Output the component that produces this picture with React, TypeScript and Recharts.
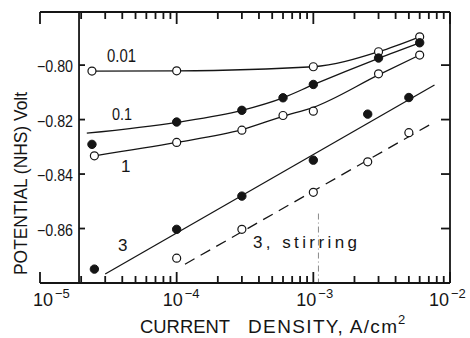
import React from "react";
import { ComposedChart, Line, Scatter, XAxis, YAxis, ReferenceLine } from "recharts";

const W = 470;
const H = 338;
const FONT = "'Liberation Sans', Arial, sans-serif";
const INK = "#151515";

// log axis ticks, A/cm2 (decades plus 2..9 minors)
const currentTicks = [
    1e-5, 2e-5, 3e-5, 4e-5, 5e-5, 6e-5, 7e-5, 8e-5, 9e-5,
    1e-4, 2e-4, 3e-4, 4e-4, 5e-4, 6e-4, 7e-4, 8e-4, 9e-4,
    1e-3, 2e-3, 3e-3, 4e-3, 5e-3, 6e-3, 7e-3, 8e-3, 9e-3,
    1e-2,
];
const decadeTicks = [1e-5, 1e-4, 1e-3, 1e-2];
const decadeExps = ["\u22125", "\u22124", "\u22123", "\u22122"];
const potentialTicks = [-0.86, -0.84, -0.82, -0.8];
const potentialLabels = ["\u22120.86", "\u22120.84", "\u22120.82", "\u22120.80"];

// measured points: current (A/cm2) / potential (V)
const i001 = [2.4e-5, 1e-4, 1e-3, 3e-3, 6e-3];
const e001 = [-0.8022, -0.8021, -0.8006, -0.7951, -0.7896];

const i01 = [2.4e-5, 1e-4, 3e-4, 6e-4, 1e-3, 3e-3, 6e-3];
const e01 = [-0.8291, -0.8209, -0.8166, -0.812, -0.8071, -0.7974, -0.7918];

const i1 = [2.5e-5, 1e-4, 3e-4, 6e-4, 1e-3, 3e-3, 6e-3];
const e1 = [-0.8333, -0.8284, -0.8239, -0.8185, -0.8169, -0.8032, -0.7963];

const i3 = [2.5e-5, 1e-4, 3e-4, 1e-3, 2.5e-3, 5e-3];
const e3 = [-0.8749, -0.8603, -0.8481, -0.8349, -0.818, -0.8119];

const i3s = [1e-4, 3e-4, 1e-3, 2.5e-3, 5e-3];
const e3s = [-0.8709, -0.8603, -0.8467, -0.8355, -0.8248];

// hand drawn curves
const fitI01 = [2.2e-5, 1e-4, 3e-4, 6e-4, 1e-3, 3e-3, 6e-3];
const fitE01 = [-0.825, -0.821, -0.8166, -0.812, -0.8072, -0.7975, -0.7918];

const fitI1 = [2.5e-5, 1e-4, 3e-4, 6e-4, 1e-3, 3e-3, 6e-3];
const fitE1 = [-0.8333, -0.8284, -0.8237, -0.8188, -0.8155, -0.8036, -0.7963];

const fitI3 = [3e-5, 7.7e-3];
const fitE3 = [-0.8767, -0.8073];

const fitI3s = [1.15e-4, 7.4e-3];
const fitE3s = [-0.8731, -0.8214];

const toPts = (xs: number[], ys: number[]) => xs.map((x, k) => ({ x, y: ys[k] }));

const Y_DOMAIN: [number, number] = [-0.88, -0.7805];
const X_DOMAIN: [number, number] = [1e-5, 1e-2];
const MARGIN = { top: 0, right: 20, bottom: 0, left: 0 };
const PLOT_LEFT = 40;
const TOP_H = 12;
const BOTTOM_H = 55;
const PLOT_W = W - PLOT_LEFT - MARGIN.right;
const DECADE_PX = PLOT_W / 3;
const Y_AXIS_AT = 1.93e-5; // where the drawn potential axis crosses
const AXIS_PX = PLOT_LEFT + Math.log10(Y_AXIS_AT / X_DOMAIN[0]) * DECADE_PX;
const labelShift = [13, 6, 3, -1];

const isDecade = (v: number) => decadeTicks.findIndex((d) => Math.abs(d - v) / d < 1e-6);

// tick marks placed through the chart scales, one mark per tick value
const bottomMarks = currentTicks.map((x) => ({ x, y: Y_DOMAIN[0], len: isDecade(x) >= 0 ? 11 : 7 }));
const topMarks = currentTicks.map((x) => ({ x, y: Y_DOMAIN[1], len: isDecade(x) >= 0 ? 12 : 7 }));
const leftMarks = potentialTicks.map((y) => ({ x: Y_AXIS_AT, y }));
const rightMarks = potentialTicks.map((y) => ({ x: X_DOMAIN[1], y }));

const upMark = (p: any) => <line x1={p.cx} x2={p.cx} y1={p.cy} y2={p.cy - p.payload.len} stroke={INK} strokeWidth={1.8} />;
const downMark = (p: any) => <line x1={p.cx} x2={p.cx} y1={p.cy} y2={p.cy + p.payload.len} stroke={INK} strokeWidth={1.8} />;
const rightwardMark = (p: any) => <line x1={p.cx} x2={p.cx + 6} y1={p.cy} y2={p.cy} stroke={INK} strokeWidth={1.8} />;
const leftwardMark = (p: any) => <line x1={p.cx} x2={p.cx - 9} y1={p.cy} y2={p.cy} stroke={INK} strokeWidth={1.8} />;

const BottomTick = (props: any) => {
    const { x, y, payload } = props;
    const k = isDecade(payload.value);
    if (k < 0) return <g />;
    return (
        <g fontFamily={FONT} fill={INK}>
            <text x={x + labelShift[k]} y={y + 23} textAnchor="end" fontSize={18}>
                10
            </text>
            <text x={x + labelShift[k] + 2} y={y + 15} fontSize={13}>
                {decadeExps[k]}
            </text>
        </g>
    );
};

const LeftTick = (props: any) => {
    const { y, index } = props;
    return (
        <text
            x={AXIS_PX - 6}
            y={y + 7}
            textAnchor="end"
            fontSize={16}
            fontFamily={FONT}
            fill={INK}
            textLength={36}
            lengthAdjust="spacingAndGlyphs"
        >
            {potentialLabels[index]}
        </text>
    );
};

const openDot = (p: any) => <circle cx={p.cx} cy={p.cy} r={4} fill="#fff" stroke={INK} strokeWidth={1.2} />;
const fullDot = (p: any) => <circle cx={p.cx} cy={p.cy} r={4.2} fill={INK} stroke={INK} strokeWidth={1} />;

export default function App() {
    return (
        <div style={{ position: "absolute", left: 0, top: 0, width: W, height: H, background: "#fff" }}>
            <ComposedChart width={W} height={H} margin={MARGIN}>
                <XAxis
                    xAxisId={0}
                    dataKey="x"
                    type="number"
                    scale="log"
                    domain={X_DOMAIN}
                    ticks={currentTicks}
                    interval={0}
                    height={BOTTOM_H}
                    tickSize={0}
                    tickMargin={0}
                    tickLine={false}
                    axisLine={{ stroke: INK, strokeWidth: 1.8 }}
                    tick={(p: any) => <BottomTick {...p} />}
                />
                <XAxis
                    xAxisId="top"
                    orientation="top"
                    dataKey="x"
                    type="number"
                    scale="log"
                    domain={X_DOMAIN}
                    ticks={currentTicks}
                    interval={0}
                    height={TOP_H}
                    tickLine={false}
                    tick={false}
                    axisLine={{ stroke: INK, strokeWidth: 1.8 }}
                />
                <YAxis
                    yAxisId={0}
                    dataKey="y"
                    type="number"
                    domain={Y_DOMAIN}
                    ticks={potentialTicks}
                    interval={0}
                    width={PLOT_LEFT}
                    tickSize={0}
                    tickMargin={0}
                    tickLine={false}
                    axisLine={false}
                    tick={(p: any) => <LeftTick {...p} />}
                />
                <YAxis
                    yAxisId="right"
                    orientation="right"
                    dataKey="y"
                    type="number"
                    domain={Y_DOMAIN}
                    ticks={potentialTicks}
                    width={10}
                    mirror
                    tick={false}
                    tickLine={false}
                    axisLine={{ stroke: INK, strokeWidth: 1.8 }}
                />
                <ReferenceLine x={Y_AXIS_AT} stroke={INK} strokeWidth={1.8} />
                <ReferenceLine
                    segment={[
                        { x: 1.09e-3, y: -0.8545 },
                        { x: 1.09e-3, y: -0.88 },
                    ]}
                    stroke="#8a8a8a"
                    strokeWidth={1}
                    strokeDasharray="6 3 1 3"
                />

                <Scatter data={bottomMarks} dataKey="y" shape={upMark} isAnimationActive={false} />
                <Scatter data={topMarks} dataKey="y" shape={downMark} isAnimationActive={false} />
                <Scatter data={leftMarks} dataKey="y" shape={rightwardMark} isAnimationActive={false} />
                <Scatter data={rightMarks} dataKey="y" shape={leftwardMark} isAnimationActive={false} />

                <Line data={toPts(i001, e001)} dataKey="y" type="monotone" stroke={INK} strokeWidth={1.3} dot={false} isAnimationActive={false} />
                <Line data={toPts(fitI01, fitE01)} dataKey="y" type="monotone" stroke={INK} strokeWidth={1.3} dot={false} isAnimationActive={false} />
                <Line data={toPts(fitI1, fitE1)} dataKey="y" type="monotone" stroke={INK} strokeWidth={1.3} dot={false} isAnimationActive={false} />
                <Line data={toPts(fitI3, fitE3)} dataKey="y" type="linear" stroke={INK} strokeWidth={1.3} dot={false} isAnimationActive={false} />
                <Line data={toPts(fitI3s, fitE3s)} dataKey="y" type="linear" stroke={INK} strokeWidth={1.3} strokeDasharray="11 7" dot={false} isAnimationActive={false} />

                <Scatter data={toPts(i001, e001)} dataKey="y" shape={openDot} isAnimationActive={false} />
                <Scatter data={toPts(i01, e01)} dataKey="y" shape={fullDot} isAnimationActive={false} />
                <Scatter data={toPts(i1, e1)} dataKey="y" shape={openDot} isAnimationActive={false} />
                <Scatter data={toPts(i3, e3)} dataKey="y" shape={fullDot} isAnimationActive={false} />
                <Scatter data={toPts(i3s, e3s)} dataKey="y" shape={openDot} isAnimationActive={false} />
            </ComposedChart>

            <svg
                width={W}
                height={H}
                style={{ position: "absolute", left: 0, top: 0, pointerEvents: "none" }}
                fontFamily={FONT}
                fill={INK}
            >
                <text x={107} y={62} fontSize={18} textLength={29} lengthAdjust="spacingAndGlyphs">0.01</text>
                <text x={112} y={120} fontSize={17} textLength={20} lengthAdjust="spacingAndGlyphs">0.1</text>
                <text x={121} y={172} fontSize={17}>1</text>
                <text x={118} y={251} fontSize={17}>3</text>
                <text x={253} y={248} fontSize={17} textLength={104} lengthAdjust="spacing">3, stirring</text>

                <text
                    transform="translate(27,183.5) rotate(-90)"
                    textAnchor="middle"
                    fontSize={19}
                    textLength={183}
                    lengthAdjust="spacingAndGlyphs"
                >
                    POTENTIAL (NHS) Volt
                </text>

                <text x={140} y={333} fontSize={19} textLength={90} lengthAdjust="spacingAndGlyphs">CURRENT</text>
                <text x={248} y={333} fontSize={19} textLength={149} lengthAdjust="spacing">DENSITY, A/cm</text>
                <text x={398} y={324} fontSize={13}>2</text>
            </svg>
        </div>
    );
}
